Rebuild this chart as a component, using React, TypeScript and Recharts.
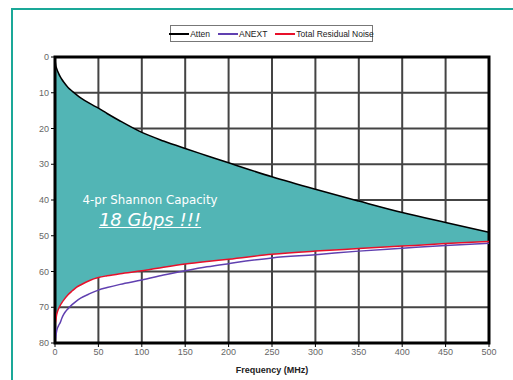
import { ComposedChart, Area, Line, XAxis, YAxis, CartesianGrid, ReferenceArea } from 'recharts'

const freq = [0, 1, 2, 4, 6, 8, 10, 15, 20, 25, 30, 40, 50, 60, 75, 100, 125, 150, 175, 200, 250, 300, 350, 400, 450, 500]
const atten = [0.8, 2.5, 3.3, 4.5, 5.5, 6.3, 7.0, 8.5, 9.6, 10.6, 11.5, 13.0, 14.3, 15.8, 17.9, 21.1, 23.5, 25.6, 27.6, 29.6, 33.5, 37.0, 40.3, 43.5, 46.3, 49.0]
const anext = [80, 78, 76.5, 75.2, 74.3, 73, 72, 70.4, 69.2, 68.2, 67.4, 66.2, 65.2, 64.5, 63.6, 62.4, 61, 59.8, 58.7, 57.8, 56.2, 55.3, 54.3, 53.5, 52.7, 52.1]
const noise = [75, 73.5, 72, 70.5, 69.5, 68.7, 68, 66.5, 65.4, 64.4, 63.7, 62.5, 61.7, 61.2, 60.6, 59.8, 58.8, 57.9, 57.2, 56.6, 55.2, 54.3, 53.6, 52.9, 52.2, 51.6]

const xTicks = [0, 50, 100, 150, 200, 250, 300, 350, 400, 450, 500]
const yTicks = [0, 10, 20, 30, 40, 50, 60, 70, 80]

const legendItems = [
  { name: 'Atten', color: '#000000' },
  { name: 'ANEXT', color: '#6040b0' },
  { name: 'Total Residual Noise', color: '#e8102a' },
]

const data = freq.map((f, i) => ({
  f,
  atten: atten[i],
  anext: anext[i],
  noise: noise[i],
  band: [atten[i], noise[i]],
}))

const font = 'Liberation Sans, Arial, sans-serif'
const tickStyle = { fill: '#666', fontSize: 9, fontFamily: font }

export default function App() {
  return (
    <div style={{ position: 'absolute', left: 0, top: 0, width: 513, height: 380, background: '#fff', overflow: 'hidden' }}>
      <div style={{ position: 'absolute', left: 11, top: 8, width: 600, height: 500, borderLeft: '2px solid #1aa898', borderTop: '2px solid #1aa898' }} />
      <ComposedChart width={513} height={380} data={data} margin={{ top: 57, right: 24, bottom: 7, left: 0 }} style={{ position: 'absolute', left: 0, top: 0 }}>
        <CartesianGrid stroke="#444" strokeWidth={2} horizontalValues={yTicks} verticalValues={xTicks} />
        <XAxis dataKey="f" type="number" domain={[0, 500]} ticks={xTicks} tick={tickStyle} tickSize={4} height={30} axisLine={{ stroke: '#000', strokeWidth: 2 }} tickLine={{ stroke: '#000' }} />
        <YAxis type="number" domain={[0, 80]} ticks={yTicks} reversed width={55} tick={tickStyle} tickSize={4} axisLine={{ stroke: '#000', strokeWidth: 2 }} tickLine={{ stroke: '#000' }} />
        <Area dataKey="band" type="monotone" fill="#52b5b5" fillOpacity={1} stroke="none" isAnimationActive={false} />
        <Line dataKey="anext" type="monotone" stroke="#6040b0" strokeWidth={1.5} dot={false} isAnimationActive={false} />
        <Line dataKey="noise" type="monotone" stroke="#e8102a" strokeWidth={1.5} dot={false} isAnimationActive={false} />
        <Line dataKey="atten" type="monotone" stroke="#000" strokeWidth={1.5} dot={false} isAnimationActive={false} />
        <ReferenceArea x1={0} x2={500} y1={0} y2={80} fill="none" stroke="#000" strokeWidth={3} ifOverflow="visible" />
      </ComposedChart>
      <div style={{ position: 'absolute', left: 170, top: 25, width: 203, height: 17, boxSizing: 'border-box', border: '1px solid #777', background: '#fff', display: 'flex', alignItems: 'center', justifyContent: 'center', gap: 8, fontSize: 8.5, fontFamily: font, color: '#222', whiteSpace: 'nowrap' }}>
        {legendItems.map(it => (
          <span key={it.name} style={{ display: 'flex', alignItems: 'center' }}>
            <span style={{ display: 'inline-block', width: 20, height: 2, background: it.color, marginRight: 1 }} />
            {it.name}
          </span>
        ))}
      </div>
      <div style={{ position: 'absolute', left: 50, top: 192, width: 200, textAlign: 'center', color: '#fff', fontFamily: 'DejaVu Sans, Verdana, sans-serif' }}>
        <div style={{ fontSize: 11.8, lineHeight: '16px' }}>4-pr Shannon Capacity</div>
        <div style={{ fontSize: 18, lineHeight: '24px', fontStyle: 'italic', textDecoration: 'underline' }}>18 Gbps !!!</div>
      </div>
      <div style={{ position: 'absolute', left: 55, width: 434, top: 365, textAlign: 'center', fontSize: 9, fontWeight: 'bold', fontFamily: font, color: '#222' }}>
        Frequency (MHz)
      </div>
    </div>
  )
}
